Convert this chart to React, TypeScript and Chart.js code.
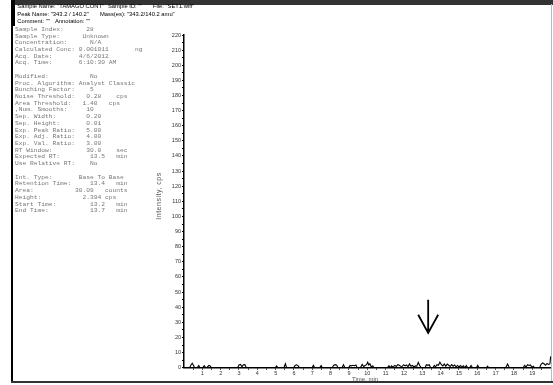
import React, { useEffect, useRef } from 'react';
import { Chart, registerables } from 'chart.js';
Chart.register(...registerables);

// ---- data ----
const timeMin = [
  0.0, 0.3, 0.38, 0.45, 0.52, 0.58, 0.72, 0.8, 0.88, 1.02, 1.1, 1.17, 1.25, 1.35, 1.43, 1.5,
  2.92, 3.0, 3.08, 3.16, 3.24, 3.32, 3.4, 4.98, 5.05, 5.12, 5.45, 5.53, 5.6, 5.98, 6.06, 6.14,
  6.22, 6.3, 6.98, 7.06, 7.13, 7.4, 7.48, 7.55, 8.08, 8.17, 8.25, 8.33, 8.4, 8.62, 8.7, 8.78,
  8.98, 9.06, 9.14, 9.22, 9.3, 9.38, 9.45, 9.62, 9.72, 9.8, 9.88, 9.96, 10.02, 10.08, 10.14,
  10.22, 10.3, 10.36, 11.1, 11.18, 11.25, 11.32, 11.4, 11.5, 11.58, 11.66, 11.74, 11.82, 11.9,
  11.98, 12.06, 12.14, 12.22, 12.3, 12.38, 12.46, 12.54, 12.62, 12.7, 12.78, 12.86, 12.94,
  13.15, 13.22, 13.3, 13.38, 13.45, 13.58, 13.65, 13.72, 13.8, 13.88, 13.96, 14.04, 14.12,
  14.2, 14.28, 14.36, 14.44, 14.52, 14.6, 14.68, 14.76, 14.84, 14.92, 15.0, 15.08, 15.16,
  15.24, 15.32, 15.4, 15.48, 15.58, 15.66, 15.74, 15.95, 16.02, 16.1, 16.5, 16.56, 16.62,
  17.55, 17.65, 17.75, 18.5, 18.58, 18.66, 18.74, 18.82, 18.9, 18.98, 19.06, 19.12, 19.4,
  19.48, 19.56, 19.64, 19.72, 19.8, 19.88, 19.96, 20.0
];
const intensityCps = [
  0, 0, 1.8, 3.0, 1.5, 0, 0, 1.5, 0, 0, 1.4, 0.3, 0, 1.5, 1.2, 0,
  0, 1.8, 2.2, 0.8, 1.9, 2.0, 0, 0, 1.2, 0, 0, 2.6, 0, 0, 1.5, 1.9,
  1.4, 0, 0, 1.5, 0, 0, 1.4, 0, 0, 1.6, 2.0, 1.7, 0, 0, 2.0, 0,
  0, 1.5, 1.2, 1.6, 1.3, 1.8, 0, 0, 2.2, 0.8, 1.5, 2.0, 3.6, 1.8, 2.6,
  0.5, 1.2, 0, 0, 1.3, 0, 1.2, 0.4, 1.5, 0.8, 2.0, 1.6, 1.0, 0.8,
  2.0, 1.2, 1.8, 0.6, 2.5, 1.0, 1.5, 0.5, 1.2, 1.0, 3.5, 1.5, 0,
  0, 2.0, 1.6, 2.0, 0, 0, 1.5, 0.5, 2.0, 1.6, 3.6, 2.0, 1.2,
  2.5, 1.0, 2.4, 1.6, 0.8, 2.0, 1.0, 1.8, 0.6, 1.5, 0.5, 1.4, 0.4,
  1.2, 0, 1.5, 0, 0, 1.5, 0, 0, 1.5, 0, 0, 1.0, 0,
  0, 2.5, 0, 0, 1.5, 0.5, 2.0, 1.5, 1.8, 0.3, 1.0, 0, 0,
  2.2, 3.2, 2.6, 1.6, 2.8, 2.2, 2.5, 7.5
];
const xTickValues = [
  0.5, 1, 1.5, 2, 2.5, 3, 3.5, 4, 4.5, 5, 5.5, 6, 6.5, 7, 7.5, 8, 8.5, 9, 9.5, 10,
  10.5, 11, 11.5, 12, 12.5, 13, 13.5, 14, 14.5, 15, 15.5, 16, 16.5, 17, 17.5, 18, 18.5, 19, 19.5
];
const xLabelled = [1, 2, 3, 4, 5, 6, 7, 8, 9, 10, 11, 12, 13, 14, 15, 16, 17, 18, 19];
const yMax = 220;
// arrow marking the peak: time, top, tip, wing level (cps)
const arrowTime = 13.32;
const arrowTop = 45;
const arrowTip = 23;
const arrowWing = 35;

const headerLines = [
  [['Sample Name: "TAMAGO CONT"', 17.3], ['Sample ID: ""', 108], ['File: "SET1.wiff"', 153]],
  [['Peak Name: "343.2 / 140.2"', 17.3], ['Mass(es): "343.2/140.2 amu"', 100]],
  [['Comment: ""', 17.3], ['Annotation: ""', 55]],
] as [string, number][][];

const infoLines = [
  'Sample Index:      28',
  'Sample Type:      Unknown',
  'Concentration:      N/A',
  'Calculated Conc: 0.001011       ng',
  'Acq. Date:       4/6/2012',
  'Acq. Time:       6:10:30 AM',
  '',
  'Modified:           No',
  'Proc. Algorithm: Analyst Classic',
  'Bunching Factor:    5',
  'Noise Threshold:   0.28    cps',
  'Area Threshold:   1.40   cps',
  ',Num. Smooths:     10',
  'Sep. Width:        0.20',
  'Sep. Height:       0.01',
  'Exp. Peak Ratio:   5.00',
  'Exp. Adj. Ratio:   4.00',
  'Exp. Val. Ratio:   3.00',
  'RT Window:         30.0    sec',
  'Expected RT:        13.5   min',
  'Use Relative RT:    No',
  '',
  'Int. Type:       Base To Base',
  'Retention Time:     13.4   min',
  'Area:           30.09   counts',
  'Height:           2.394 cps',
  'Start Time:         13.2   min',
  'End Time:           13.7   min',
];

const SANS = '"Liberation Sans", Arial, sans-serif';
const MONO = '"Liberation Mono", "Courier New", monospace';

const arrowPlugin = {
  id: 'peakArrow',
  afterDatasetsDraw(chart: any) {
    const { ctx, scales } = chart;
    const x = scales.x;
    const y = scales.y;
    const px = x.getPixelForValue(arrowTime);
    const yTop = y.getPixelForValue(arrowTop);
    const yTip = y.getPixelForValue(arrowTip);
    const yWing = y.getPixelForValue(arrowWing);
    ctx.save();
    ctx.strokeStyle = '#000';
    ctx.lineWidth = 1.8;
    ctx.beginPath();
    ctx.moveTo(px, yTop);
    ctx.lineTo(px, yTip);
    ctx.moveTo(px - 10, yWing);
    ctx.lineTo(px, yTip);
    ctx.lineTo(px + 10, yWing);
    ctx.stroke();
    ctx.restore();
  },
};

export default function App() {
  const canvasRef = useRef<HTMLCanvasElement | null>(null);

  useEffect(() => {
    if (!canvasRef.current) return;
    const chart = new Chart(canvasRef.current, {
      type: 'line',
      data: {
        datasets: [
          {
            data: timeMin.map((t, i) => ({ x: t, y: intensityCps[i] })),
            borderColor: '#000',
            borderWidth: 1.1,
            pointRadius: 0,
            tension: 0,
          },
        ],
      },
      options: {
        animation: false,
        responsive: false,
        maintainAspectRatio: false,
        layout: { padding: { left: 0, right: 2, top: 35, bottom: 0 } },
        plugins: { legend: { display: false }, tooltip: { enabled: false } },
        scales: {
          x: {
            type: 'linear',
            min: 0,
            max: 20.02,
            afterBuildTicks: (s: any) => {
              s.ticks = xTickValues.map((v) => ({ value: v }));
            },
            ticks: {
              autoSkip: false,
              maxRotation: 0,
              padding: 0,
              color: '#333',
              font: { size: 5.5, family: SANS },
              callback: (v: any) => (xLabelled.includes(Number(v)) ? String(v) : ''),
            },
            grid: { display: true, drawOnChartArea: false, drawTicks: true, tickLength: 2, color: '#000' },
            border: { display: true, color: '#000', width: 1.5 },
            afterFit: (s: any) => {
              s.height = 17.3;
            },
          },
          y: {
            min: 0,
            max: yMax,
            ticks: {
              stepSize: 5,
              autoSkip: false,
              padding: 1,
              color: '#333',
              font: { size: 5.5, family: SANS },
              callback: (v: any) => (Number(v) % 10 === 0 ? String(v) : ''),
            },
            grid: { display: true, drawOnChartArea: false, drawTicks: true, tickLength: 2, color: '#000' },
            border: { display: true, color: '#000', width: 1.5 },
            afterFit: (s: any) => {
              s.width = 184;
            },
          },
        },
      },
      plugins: [arrowPlugin],
    } as any);
    return () => chart.destroy();
  }, []);

  return (
    <div style={{ position: 'absolute', left: 0, top: 0, width: 553, height: 385, background: '#fff', overflow: 'hidden' }}>
      <canvas ref={canvasRef} width={553} height={385} style={{ position: 'absolute', left: 0, top: 0, width: 553, height: 385 }} />
      {/* frame */}
      <div style={{ position: 'absolute', left: 11, top: 0, width: 542, height: 4.5, background: '#333' }} />
      <div style={{ position: 'absolute', left: 11, top: 0, width: 1.5, height: 383, background: '#000' }} />
      <div style={{ position: 'absolute', left: 11, top: 380.7, width: 542, height: 2.6, background: '#333' }} />
      <div style={{ position: 'absolute', left: 551, top: 4, width: 1, height: 377, background: '#bbb' }} />
      <div style={{ position: 'absolute', left: 11, top: 0, width: 3.5, height: 26, background: '#000' }} />
      {/* header */}
      {headerLines.map((line, li) =>
        line.map(([txt, x], si) => (
          <div
            key={`h${li}-${si}`}
            style={{
              position: 'absolute',
              left: x,
              top: 2.8 + li * 7.8,
              fontFamily: SANS,
              fontSize: 5.8,
              lineHeight: '7px',
              color: '#000',
              whiteSpace: 'pre',
            }}
          >
            {txt}
          </div>
        ))
      )}
      {/* info block */}
      {infoLines.map((txt, i) => (
        <div
          key={`i${i}`}
          style={{
            position: 'absolute',
            left: 15,
            top: 29.3 + i * 6.72 - 3.5,
            fontFamily: MONO,
            fontSize: 6.25,
            lineHeight: '7px',
            color: '#777',
            whiteSpace: 'pre',
          }}
        >
          {txt}
        </div>
      ))}
      {/* axis titles */}
      <div
        style={{
          position: 'absolute',
          left: 158,
          top: 196,
          transform: 'translate(-50%, -50%) rotate(-90deg)',
          fontFamily: SANS,
          fontSize: 7,
          letterSpacing: 0.5,
          color: '#555',
          whiteSpace: 'pre',
        }}
      >
        Intensity, cps
      </div>
      <div
        style={{
          position: 'absolute',
          left: 365,
          top: 378.7,
          transform: 'translate(-50%, -50%)',
          fontFamily: SANS,
          fontSize: 6,
          color: '#555',
          whiteSpace: 'pre',
        }}
      >
        Time, min
      </div>
    </div>
  );
}
